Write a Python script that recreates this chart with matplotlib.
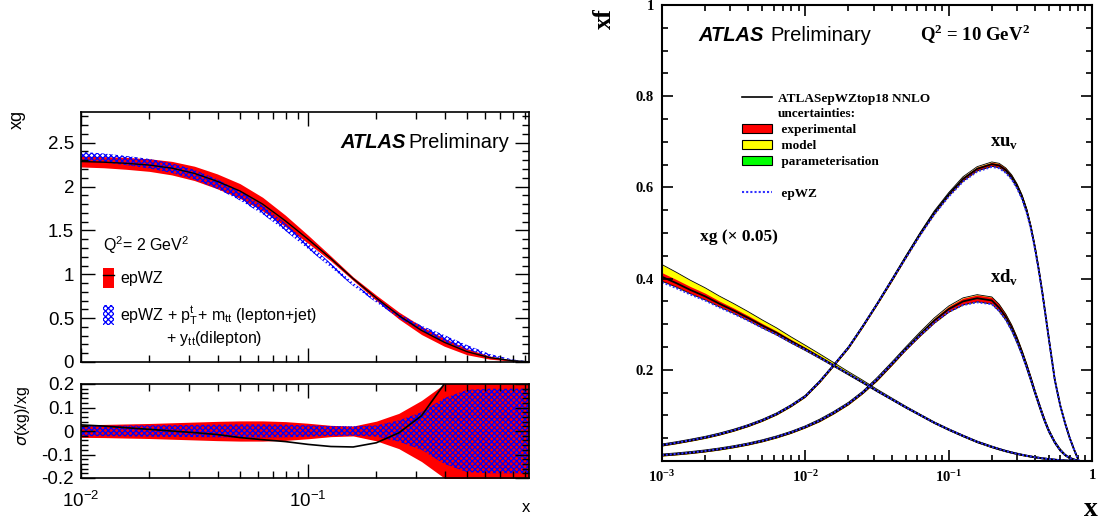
import matplotlib
matplotlib.use('Agg')
import matplotlib.pyplot as plt
import numpy as np
from matplotlib.patches import Patch
from matplotlib.lines import Line2D
from matplotlib.ticker import MultipleLocator, FixedLocator, FuncFormatter, NullFormatter, LogLocator

plt.rcParams['font.family'] = ['Liberation Sans', 'DejaVu Sans']
plt.rcParams['axes.unicode_minus'] = False
plt.rcParams['hatch.linewidth'] = 0.9

# ---- left: xg at Q2 = 2 GeV2 ----
x_l = [0.01, 0.0126, 0.0158, 0.02, 0.0251, 0.0316, 0.0398, 0.0501, 0.0631, 0.0794, 0.1,
       0.126, 0.158, 0.2, 0.251, 0.316, 0.398, 0.501, 0.631, 0.794, 0.94]
xg_epwz = [2.285, 2.278, 2.265, 2.245, 2.21, 2.15, 2.06, 1.95, 1.80, 1.61, 1.40,
           1.18, 0.95, 0.73, 0.53, 0.36, 0.225, 0.118, 0.050, 0.015, 0.003]
rel_epwz = [0.027, 0.028, 0.030, 0.032, 0.035, 0.038, 0.041, 0.043, 0.043, 0.040, 0.033,
            0.024, 0.021, 0.042, 0.075, 0.13, 0.20, 0.30, 0.35, 0.40, 0.45]
rel_top = [0.022, 0.022, 0.023, 0.024, 0.025, 0.026, 0.027, 0.028, 0.028, 0.027, 0.024,
           0.021, 0.020, 0.024, 0.045, 0.08, 0.14, 0.175, 0.18, 0.18, 0.18]
ratio_top = [0.026, 0.021, 0.014, 0.007, 0.000, -0.007, -0.015, -0.028, -0.037, -0.045, -0.057,
             -0.066, -0.068, -0.050, -0.008, 0.065, 0.20, 0.40, 0.55, 0.70, 0.80]

# ---- right: PDFs at Q2 = 10 GeV2 ----
x_r = [0.001, 0.00126, 0.00158, 0.002, 0.00251, 0.00316, 0.00398, 0.00501, 0.00631, 0.00794,
       0.01, 0.0126, 0.0158, 0.02, 0.0251, 0.0316, 0.0398, 0.0501, 0.0631, 0.0794,
       0.1, 0.126, 0.158, 0.2, 0.225, 0.25, 0.275, 0.3, 0.325, 0.35,
       0.375, 0.4, 0.425, 0.45, 0.475, 0.5, 0.55, 0.6, 0.65, 0.7,
       0.75, 0.78, 0.81]
xg_c = [0.404, 0.390, 0.375, 0.361, 0.345, 0.330, 0.314, 0.297, 0.281, 0.263,
        0.246, 0.228, 0.210, 0.191, 0.173, 0.154, 0.136, 0.118, 0.101, 0.084,
        0.069, 0.055, 0.042, 0.031, 0.026, 0.0218, 0.0185, 0.0158, 0.0134, 0.0114,
        0.0097, 0.0082, 0.0070, 0.0059, 0.0050, 0.0042, 0.0029, 0.0019, 0.0012, 0.0007,
        0.0003, 0.0001, 0.0]
xg_ep_off = [-0.012, -0.011, -0.010, -0.009, -0.008, -0.007, -0.006, -0.005, -0.004, -0.003,
             -0.002, -0.0015, -0.001, 0, 0, 0, 0, 0, 0, 0,
             0, 0, 0, 0, 0, 0, 0, 0, 0, 0,
             0, 0, 0, 0, 0, 0, 0, 0, 0, 0,
             0, 0, 0]
xg_exp = [0.009, 0.008, 0.0075, 0.007, 0.006, 0.0055, 0.005, 0.0045, 0.004, 0.0035,
          0.003, 0.0025, 0.002, 0.0015, 0.0015, 0.0012, 0.001, 0.001, 0.001, 0.001,
          0.001, 0.001, 0.001, 0.001, 0.0009, 0.0008, 0.0008, 0.0007, 0.0007, 0.0006,
          0.0006, 0.0005, 0.0005, 0.0004, 0.0004, 0.0003, 0.0003, 0.0002, 0.0002, 0.0001,
          0.0001, 0.0, 0.0]
xg_mod = [0.017, 0.015, 0.013, 0.011, 0.010, 0.009, 0.008, 0.007, 0.006, 0.005,
          0.004, 0.0035, 0.003, 0.0025, 0.002, 0.0015, 0.001, 0.0005, 0, 0,
          0, 0, 0, 0, 0, 0, 0, 0, 0, 0,
          0, 0, 0, 0, 0, 0, 0, 0, 0, 0,
          0, 0, 0]
xuv_c = [0.035, 0.040, 0.0455, 0.0517, 0.0589, 0.0674, 0.0774, 0.0892, 0.1032, 0.121,
         0.142, 0.174, 0.210, 0.2487, 0.2947, 0.3437, 0.3947, 0.4467, 0.4977, 0.5447,
         0.5847, 0.6187, 0.6407, 0.651, 0.648, 0.638, 0.623, 0.603, 0.579, 0.549,
         0.512, 0.468, 0.420, 0.370, 0.318, 0.268, 0.178, 0.122, 0.082, 0.050,
         0.025, 0.012, 0.0]
xuv_ep_off = [0, 0, 0, 0, 0, 0, 0, 0, 0, 0,
              0, 0, 0, 0, 0, 0, 0, -0.002, -0.003, -0.004,
              -0.005, -0.006, -0.006, -0.006, -0.006, -0.006, -0.005, -0.005, -0.004, -0.004,
              -0.003, -0.003, -0.002, -0.001, 0, 0, 0, 0, 0, 0,
              0, 0, 0]
xuv_exp = [0.0015, 0.0015, 0.0015, 0.0015, 0.0015, 0.0015, 0.0015, 0.0015, 0.0015, 0.0015,
           0.0015, 0.0015, 0.0015, 0.0015, 0.0015, 0.0015, 0.002, 0.002, 0.002, 0.003,
           0.003, 0.004, 0.004, 0.004, 0.004, 0.004, 0.004, 0.004, 0.004, 0.004,
           0.003, 0.003, 0.003, 0.003, 0.003, 0.003, 0.002, 0.002, 0.002, 0.0015,
           0.001, 0.001, 0.0]
xdv_c = [0.0130, 0.0155, 0.0184, 0.0220, 0.0262, 0.0312, 0.0371, 0.0442, 0.0527, 0.0627,
         0.0747, 0.0890, 0.106, 0.126, 0.150, 0.179, 0.212, 0.246, 0.278, 0.308,
         0.333, 0.350, 0.357, 0.352, 0.336, 0.316, 0.292, 0.265, 0.237, 0.208,
         0.179, 0.151, 0.126, 0.103, 0.083, 0.066, 0.041, 0.024, 0.013, 0.0065,
         0.0028, 0.0012, 0.0]
xdv_ep_off = [0, 0, 0, 0, 0, 0, 0, 0, 0, 0,
              0, 0, 0, 0, 0, 0, 0, -0.002, -0.003, -0.005,
              -0.006, -0.008, -0.009, -0.008, -0.007, -0.006, -0.005, -0.004, -0.003, -0.002,
              -0.001, 0, 0, 0, 0, 0, 0, 0, 0, 0,
              0, 0, 0]
xdv_exp = [0.0015, 0.0015, 0.0015, 0.0015, 0.0015, 0.0015, 0.0015, 0.0015, 0.0015, 0.0015,
           0.0015, 0.002, 0.002, 0.002, 0.002, 0.003, 0.003, 0.003, 0.004, 0.005,
           0.006, 0.007, 0.007, 0.007, 0.007, 0.006, 0.006, 0.006, 0.005, 0.005,
           0.005, 0.004, 0.004, 0.004, 0.003, 0.003, 0.002, 0.002, 0.001, 0.001,
           0.001, 0.001, 0.0]

W, H = 1101, 523
fig = plt.figure(figsize=(W / 100, H / 100), dpi=100)


def px_axes(l, r, t, b):
    return fig.add_axes([l / W, 1 - b / H, (r - l) / W, (b - t) / H])


# ================= LEFT PANEL =================
ax1 = px_axes(81, 529, 112, 362)
ax2 = px_axes(81, 529, 384, 478)

xl = np.array(x_l)
c = np.array(xg_epwz)
re = np.array(rel_epwz)
rt = np.array(rel_top)
cn = c * (1 + np.array(ratio_top))

ax1.fill_between(xl, c * (1 - re), c * (1 + re), color='#ff0000', lw=0)
ax1.fill_between(xl, cn * (1 - rt), cn * (1 + rt), facecolor='none', edgecolor='#0000ff',
                 hatch='xxxxxx', lw=0)
ax1.plot(xl, c, color='black', lw=1.0)

ax2.fill_between(xl, -re, re, color='#ff0000', lw=0)
ax2.fill_between(xl, -rt, rt, facecolor='none', edgecolor='#0000ff', hatch='xxxxxx', lw=0)
ax2.plot(xl, ratio_top, color='black', lw=1.2)

for a in (ax1, ax2):
    a.set_xscale('log')
    a.set_xlim(0.01, 0.94)
    a.tick_params(which='both', direction='in', top=True, right=True, labelsize=13.5, pad=5)
    a.tick_params(which='major', length=10, width=1)
    a.tick_params(which='minor', length=5, width=1)
    a.xaxis.set_minor_formatter(NullFormatter())
    for s in a.spines.values():
        s.set_linewidth(1.2)

ax1.set_ylim(0, 2.85)
ax1.yaxis.set_major_locator(MultipleLocator(0.5))
ax1.yaxis.set_minor_locator(MultipleLocator(0.1))
ax1.yaxis.set_major_formatter(FuncFormatter(lambda v, p: f'{v:g}'))
ax1.tick_params(axis='x', labelbottom=False)

ax2.set_ylim(-0.2, 0.2)
ax2.yaxis.set_major_locator(MultipleLocator(0.1))
ax2.yaxis.set_minor_locator(MultipleLocator(0.02))
ax2.yaxis.set_major_formatter(FuncFormatter(lambda v, p: f'{v:.1f}' if abs(v) > 1e-9 else '0'))
ax2.tick_params(axis='x', pad=9)

ax1.text(0.578, 0.877, 'ATLAS', transform=ax1.transAxes, fontsize=14.5,
         fontweight='bold', fontstyle='italic', va='center', ha='left')
ax1.text(0.955, 0.877, 'Preliminary', transform=ax1.transAxes, fontsize=14.5,
         va='center', ha='right')
ax1.text(0.049, 0.468, r'Q$^{\mathregular{2}}$= 2 GeV$^{\mathregular{2}}$', transform=ax1.transAxes,
         fontsize=11.5, va='center', ha='left')

h1 = (Patch(facecolor='#ff0000', edgecolor='none'), Line2D([], [], color='black', lw=1))
h2 = Patch(facecolor='none', edgecolor='#0000ff', hatch='xxxxxx', lw=0)
ax1.legend([h1, h2], ['epWZ', r'epWZ + p$_{\mathregular{T}}^{\mathregular{t}}$+ m$_{\mathregular{tt}}$ (lepton+jet)'],
           loc='upper left', bbox_to_anchor=(0.048, 0.378), frameon=False, fontsize=11.5,
           handlelength=0.7, handleheight=1.55, labelspacing=1.05, handletextpad=0.4,
           borderpad=0, borderaxespad=0)
ax1.text(0.190, 0.096, r'+ y$_{\mathregular{tt}}$(dilepton)', transform=ax1.transAxes,
         fontsize=11.5, va='center', ha='left')

fig.text(17 / W, 1 - 110 / H, 'xg', rotation=90, ha='center', va='top', fontsize=13)
fig.text(23 / W, 1 - 386 / H, r'$\sigma$(xg)/xg', rotation=90, ha='center', va='top', fontsize=11.5)
fig.text(530 / W, 1 - 508 / H, 'x', ha='right', va='center', fontsize=12)

# ================= RIGHT PANEL =================
ax3 = px_axes(662, 1092, 5, 461)
xr = np.array(x_r)
serif = 'Liberation Serif'

curves = [(xg_c, xg_ep_off, xg_exp, xg_mod),
          (xuv_c, xuv_ep_off, xuv_exp, [0] * len(x_r)),
          (xdv_c, xdv_ep_off, xdv_exp, [0] * len(x_r))]
for cen, off, ex, md in curves:
    cen = np.array(cen)
    ex = np.array(ex)
    md = np.array(md)
    lo = cen - ex - 0.0008
    hi = cen + ex + md + 0.0008
    ax3.fill_between(xr, lo, hi, color='#ffff00', lw=0)
    ax3.fill_between(xr, cen - ex, cen + ex, color='#ff0000', lw=0)
    ax3.plot(xr, lo, color='black', lw=0.6)
    ax3.plot(xr, hi, color='black', lw=0.6)
    ax3.plot(xr, cen, color='black', lw=1.3)
    ax3.plot(xr, cen + np.array(off), color='#3030ff', lw=1.4, ls=(0, (1, 1)))

ax3.set_xscale('log')
ax3.set_xlim(1e-3, 1)
ax3.set_ylim(0, 1)
ax3.xaxis.set_major_locator(FixedLocator([1e-3, 1e-2, 1e-1, 1]))
ax3.xaxis.set_minor_locator(LogLocator(base=10, subs=np.arange(2, 10), numticks=20))
ax3.xaxis.set_minor_formatter(NullFormatter())
ax3.xaxis.set_major_formatter(FuncFormatter(
    lambda v, p: '1' if v >= 0.999 else r'$\mathregular{10^{%d}}$' % round(np.log10(v))))
ax3.yaxis.set_major_locator(MultipleLocator(0.2))
ax3.yaxis.set_minor_locator(MultipleLocator(0.05))
ax3.yaxis.set_major_formatter(FuncFormatter(lambda v, p: '' if v < 1e-9 else f'{v:g}'))
ax3.tick_params(which='both', direction='in', top=True, right=True, pad=6)
ax3.tick_params(which='major', length=8, width=1.2)
ax3.tick_params(which='minor', length=4, width=1.2)
for lab in ax3.get_xticklabels() + ax3.get_yticklabels():
    lab.set_fontfamily(serif)
    lab.set_fontweight('bold')
    lab.set_fontsize(10.5)
for s in ax3.spines.values():
    s.set_linewidth(1.5)

ax3.text(0.084, 0.934, 'ATLAS', transform=ax3.transAxes, fontsize=14.5,
         fontweight='bold', fontstyle='italic', va='center', ha='left')
ax3.text(0.251, 0.934, 'Preliminary', transform=ax3.transAxes, fontsize=14.5,
         va='center', ha='left')
ax3.text(0.600, 0.936, r'Q$^{\mathregular{2}}$ = 10 GeV$^{\mathregular{2}}$', transform=ax3.transAxes,
         fontsize=13.5, family=serif, fontweight='bold', va='center', ha='left')
ax3.text(0.088, 0.491, 'xg (\u00d7 0.05)', transform=ax3.transAxes,
         fontsize=12.5, family=serif, fontweight='bold', va='center', ha='left')
ax3.text(0.763, 0.697, r'xu$_{\mathregular{v}}$', transform=ax3.transAxes,
         fontsize=13.5, family=serif, fontweight='bold', va='center', ha='left')
ax3.text(0.763, 0.401, r'xd$_{\mathregular{v}}$', transform=ax3.transAxes,
         fontsize=13.5, family=serif, fontweight='bold', va='center', ha='left')

handles_r = [Line2D([], [], color='black', lw=1.2),
             Line2D([], [], color='none'),
             Patch(facecolor='#ff0000', edgecolor='black', lw=0.8),
             Patch(facecolor='#ffff00', edgecolor='black', lw=0.8),
             Patch(facecolor='#00ff00', edgecolor='black', lw=0.8),
             Line2D([], [], color='none'),
             Line2D([], [], color='#3030ff', lw=1.5, ls=(0, (1, 1)))]
labels_r = ['ATLASepWZtop18 NNLO', 'uncertainties:', ' experimental', ' model',
            ' parameterisation', ' ', ' epWZ']
ax3.legend(handles_r, labels_r, loc='upper left', bbox_to_anchor=(0.186, 0.809),
           frameon=False, prop={'family': serif, 'weight': 'bold', 'size': 9.5},
           handlelength=2.3, handleheight=0.75, labelspacing=0.26, handletextpad=0.45,
           borderpad=0, borderaxespad=0)

fig.text(604 / W, 1 - 8 / H, 'xf', rotation=90, ha='center', va='top', fontsize=18,
         family=serif, fontweight='bold')
fig.text(1098 / W, 1 - 510 / H, 'x', ha='right', va='center', fontsize=20,
         family=serif, fontweight='bold')

fig.savefig('out.png', dpi=100)
